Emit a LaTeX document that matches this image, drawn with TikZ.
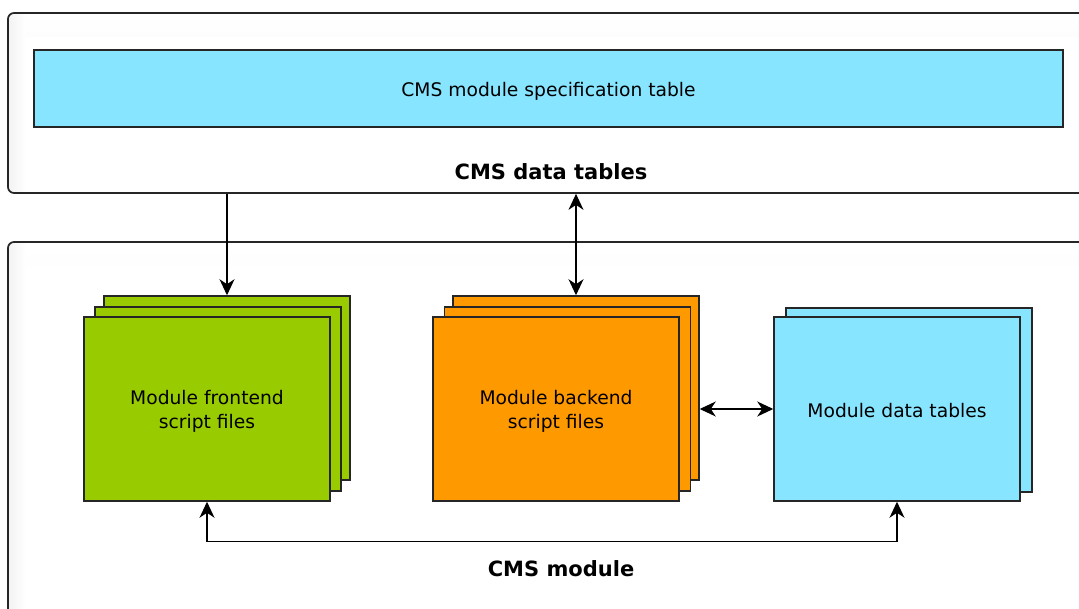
\documentclass[tikz,border=0pt]{standalone}
\usepackage{fontspec}
\setmainfont{DejaVu Sans}
\usetikzlibrary{arrows.meta}

\definecolor{cyanfill}{RGB}{136,229,255}
\definecolor{greenfill}{RGB}{153,204,0}
\definecolor{orangefill}{RGB}{255,153,0}
\definecolor{edgecol}{RGB}{38,38,38}

\begin{document}
\begin{tikzpicture}[x=1pt,y=-1pt,
  % y runs downwards here, so the shading colours are given bottom-to-top
  container/.style={draw=edgecol, line width=1.7pt, rounded corners=6pt, fill=white, inner sep=0pt,
    path picture={
      \shade[bottom color=black!6, top color=white]
        (path picture bounding box.north west) rectangle ([yshift=-24pt]path picture bounding box.north east);
      \shade[left color=black!5, right color=white]
        (path picture bounding box.north west) rectangle ([xshift=18pt]path picture bounding box.south west);
    }},
  sheet/.style={draw=edgecol, line width=1.5pt, inner sep=0pt, minimum width=246pt, minimum height=184pt},
  label/.style={font=\fontsize{18.7}{24}\selectfont, align=center},
  title/.style={font=\bfseries\fontsize{21}{25}\selectfont},
  conn/.style={draw=black, line width=1.4pt},
  tipend/.style={-{Stealth[length=16pt,width=15pt,inset=5pt]}},
  tipboth/.style={{Stealth[length=16pt,width=15pt,inset=5pt]}-{Stealth[length=16pt,width=15pt,inset=5pt]}}
]
\useasboundingbox (0,0) rectangle (1079,609);

% outer containers
\node[container, minimum width=1102pt, minimum height=180pt] (topc) at (559,103) {};
\node[container, minimum width=1102pt, minimum height=398pt] (botc) at (559,441) {};

% specification table
\node[draw=edgecol, line width=1.5pt, fill=cyanfill, inner sep=0pt,
      minimum width=1029pt, minimum height=77pt] (spec) at (548.5,88.5) {};
\node[label] (spectext) at ([yshift=-3pt]spec.center) {CMS module specification table};
\node[title] (toptitle) at (551,172) {CMS data tables};

% frontend script stack
\node[sheet, fill=greenfill] (greenback) at (227,388) {};
\node[sheet, fill=greenfill] (greenmid) at (218,399) {};
\node[sheet, fill=greenfill] (greenfront) at (207,409) {};
\node[label] (greentext) at ([yshift=-2.5pt]greenfront.center) {Module frontend\\script files};

% backend script stack
\node[sheet, fill=orangefill] (orangeback) at (576,388) {};
\node[sheet, fill=orangefill] (orangemid) at (567.5,399) {};
\node[sheet, fill=orangefill] (orangefront) at (556,409) {};
\node[label] (orangetext) at ([yshift=-2.5pt]orangefront.center) {Module backend\\script files};

% module data tables
\node[sheet, fill=cyanfill] (blueback) at (909,400) {};
\node[sheet, fill=cyanfill] (bluefront) at (897,409) {};
\node[label] (bluetext) at ([yshift=-2pt]bluefront.center) {Module data tables};

\node[title] (bottitle) at (561,569) {CMS module};

% connectors
\draw[conn, tipend] (greenback.north |- topc.south) -- (greenback.north);
\draw[conn, tipboth] (orangeback.north |- topc.south) -- (orangeback.north);
\draw[conn, tipboth] (orangeback.east |- bluefront.west) -- (bluefront.west);
\coordinate (busleft) at ([yshift=-40pt]greenfront.south);
\draw[conn, tipboth] (greenfront.south) -- (busleft) -| (bluefront.south);
\end{tikzpicture}
\end{document}
